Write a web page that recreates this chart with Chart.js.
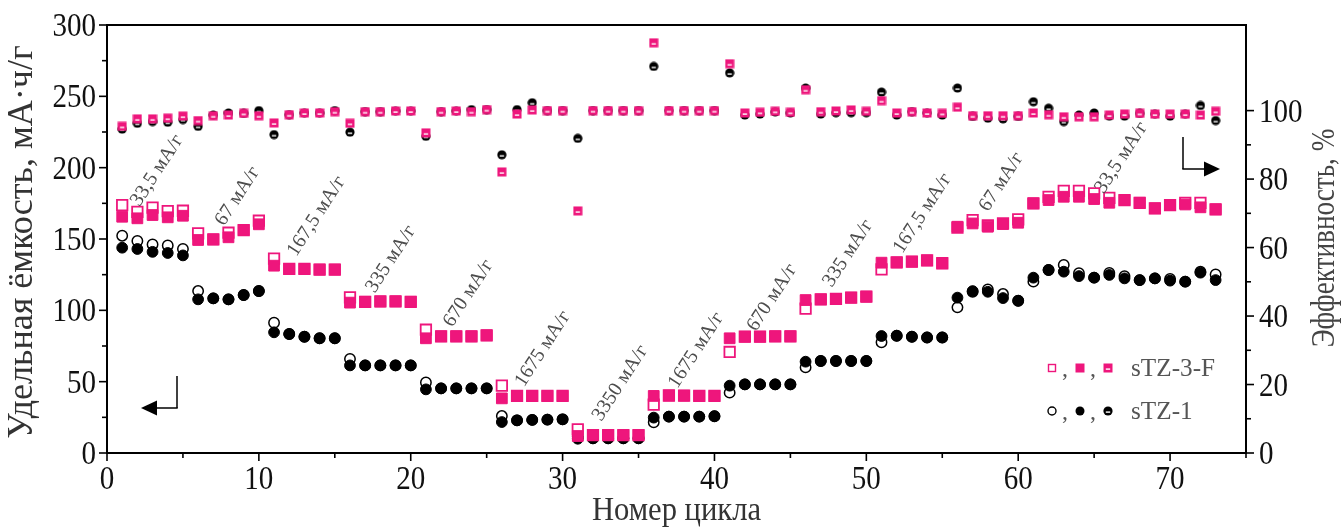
<!DOCTYPE html>
<html>
<head>
<meta charset="utf-8">
<script src="https://cdn.jsdelivr.net/npm/chart.js@4.4.1/dist/chart.umd.min.js"></script>
<style>
  html, body { margin: 0; padding: 0; background: #fff; }
  #wrap { width: 1341px; height: 527px; }
</style>
</head>
<body>
<div id="wrap"><canvas id="myChart" width="1341" height="527"></canvas></div>
<script>
// номера циклов
var cycles = [1,2,3,4,5,6,7,8,9,10,11,12,13,14,15,16,17,18,19,20,21,22,23,24,25,
	26,27,28,29,30,31,32,33,34,35,36,37,38,39,40,41,42,43,44,45,46,47,48,49,50,
	51,52,53,54,55,56,57,58,59,60,61,62,63,64,65,66,67,68,69,70,71,72,73];

// sTZ-3-F, мА·ч/г
var chargeTZ3F = [173.8,169.0,172.0,169.6,169.8, 154.0,149.7,154.4,156.3,162.8,
	136.2,129.0,129.0,128.6,128.6, 109.1,106.0,106.2,106.3,106.0,
	86.4,81.8,81.8,81.8,82.5, 47.2,40.0,40.0,40.0,40.0,
	16.6,12.6,12.6,12.6,12.6, 33.9,40.3,40.2,40.0,40.0,
	70.8,81.5,81.5,81.8,81.8, 101.2,107.7,108.0,108.9,109.6,
	128.7,133.6,134.1,135.0,133.0, 158.0,163.3,159.5,161.0,163.8,
	175.0,179.5,183.8,183.8,182.0,178.9,177.3,175.4,171.5,173.8,175.4,175.4,170.8];
var dischargeTZ3F = [165.6,164.5,166.8,165.2,166.3, 149.3,149.7,151.2,156.3,160.3,
	131.3,129.0,129.0,128.6,128.6, 105.4,106.0,106.2,106.3,106.0,
	80.4,81.8,81.8,81.8,82.5, 38.3,40.0,40.0,40.0,40.0,
	11.9,12.6,12.6,12.6,12.6, 40.0,40.3,40.2,40.0,40.0,
	80.4,81.5,81.5,81.8,81.8, 107.2,107.7,108.0,108.9,109.6,
	133.4,133.6,134.1,135.0,133.0, 158.6,160.9,158.6,160.5,161.4,
	175.0,177.3,179.6,179.6,178.0,175.4,177.3,175.4,171.5,173.8,174.2,172.2,170.8];
var effTZ3F = [95.4,97.6,97.6,97.8,98.4, 97.1,98.5,98.7,99.2,98.5,
	96.4,98.8,99.3,99.3,99.7, 96.3,99.7,99.7,99.9,99.9,
	93.5,99.7,99.9,99.7,100.3, 82.1,99.0,100.2,100.0,100.0,
	70.7,100.0,100.0,100.0,100.0, 119.8,100.0,100.0,100.0,100.0,
	113.7,99.3,99.5,99.8,99.5, 106.1,99.7,99.9,100.2,99.8,
	102.9,99.3,99.7,99.3,99.2, 101.0,98.5,98.5,98.5,98.5,
	99.3,98.8,98.2,98.2,98.2,98.7,99.0,99.2,99.0,99.0,99.0,98.7,99.8];

// sTZ-1, мА·ч/г
var chargeTZ1 = [152.3,148.6,146.2,145.5,143.0, 113.5,108.4,107.7,110.7,113.5,
	91.3,83.4,81.5,80.4,80.4, 65.9,61.4,61.4,61.4,61.4,
	49.5,45.3,45.3,45.3,45.3, 25.9,22.9,23.2,23.4,23.6,
	11.5,10.3,10.3,10.3,10.3, 21.5,25.5,25.5,25.5,25.8,
	42.3,48.1,48.1,48.1,48.1, 60.0,64.5,64.5,64.5,64.5,
	77.6,82.2,81.5,81.0,81.0, 102.1,113.0,114.7,111.4,106.7,
	120.1,128.3,131.8,126.0,122.9,126.2,124.0,121.2,122.4,122.0,120.1,127.0,125.2];
var dischargeTZ1 = [143.9,143.0,141.0,140.2,138.5, 107.7,108.4,107.7,110.7,113.5,
	84.6,83.4,81.5,80.4,80.4, 61.4,61.4,61.4,61.4,61.4,
	44.6,45.3,45.3,45.3,45.3, 21.7,22.9,23.2,23.4,23.6,
	10.0,10.3,10.3,10.3,10.3, 24.8,25.5,25.5,25.5,25.8,
	47.2,48.1,48.1,48.1,48.1, 64.0,64.5,64.5,64.5,64.5,
	82.0,82.2,81.5,81.0,81.0, 108.9,113.5,113.0,108.6,106.7,
	122.9,128.3,127.1,124.0,122.9,124.8,122.4,121.2,122.4,120.8,120.1,126.4,121.2];
var effTZ1 = [94.6,96.3,96.8,96.6,97.4, 95.4,98.7,99.3,99.2,100.0,
	93.0,98.8,99.3,99.3,100.0, 93.7,99.7,99.7,99.9,99.9,
	92.5,99.7,99.9,100.3,100.3, 87.1,100.3,102.3,100.0,100.0,
	91.9,100.0,100.0,100.0,100.0, 112.9,100.0,100.0,100.0,100.0,
	111.0,98.7,99.0,99.6,99.3, 106.6,99.0,99.4,99.4,99.4,
	105.4,98.7,99.7,99.3,98.7, 106.6,98.3,97.8,97.6,98.3,
	102.6,100.7,96.8,98.7,99.3,98.4,98.4,99.2,99.0,98.4,99.0,101.5,97.1];

// подписи осей
var xTickLabels = [0, 10, 20, 30, 40, 50, 60, 70];
var yTickLabels = [0, 50, 100, 150, 200, 250, 300];
var y1TickLabels = [0, 20, 40, 60, 80, 100];

// плотности тока по ступеням
var rateLabels = ['33,5 мА/г', '67 мА/г', '167,5 мА/г', '335 мА/г', '670 мА/г', '1675 мА/г', '3350 мА/г',
	'1675 мА/г', '670 мА/г', '335 мА/г', '167,5 мА/г', '67 мА/г', '33,5 мА/г'];
// где стоят эти подписи (цикл, мА·ч/г)
var rateLabelPos = [[3.3, 198], [8.6, 180], [13.8, 166], [18.7, 136], [23.8, 112], [28.7, 73], [33.8, 49],
	[38.8, 72], [43.8, 109], [48.8, 140], [53.7, 168], [58.9, 190], [66.8, 207]];

var PINK = '#ee167c';
var SERIF = '"Liberation Serif", "Times New Roman", serif';

function pts(ys){
	return cycles.map(function(c, i){ return {x: c, y: ys[i]}; });
}

// маркер КПД: квадрат/круг с белой чертой
function effMarker(round, color){
	var c = document.createElement('canvas');
	c.width = 10; c.height = 10;
	var g = c.getContext('2d');
	g.fillStyle = color;
	if (round) {
		g.beginPath(); g.arc(5, 5, 4.6, 0, Math.PI * 2); g.fill();
	} else {
		g.fillRect(0.5, 0.5, 9, 9);
	}
	g.fillStyle = '#fff';
	g.fillRect(2.8, 5.4, 4.4, 1.4);
	return c;
}

function drawText(ctx, s, x, y, o){
	ctx.save();
	ctx.translate(x, y);
	if (o.rot) ctx.rotate(o.rot);
	ctx.scale(o.sx || 1, 1);
	ctx.font = o.size + 'px ' + SERIF;
	ctx.fillStyle = o.color || '#000';
	ctx.textAlign = o.align || 'center';
	ctx.textBaseline = o.base || 'alphabetic';
	ctx.fillText(s, 0, 0);
	ctx.restore();
}

function seg(ctx, x1, y1, x2, y2){
	ctx.beginPath(); ctx.moveTo(x1, y1); ctx.lineTo(x2, y2); ctx.stroke();
}

function arrowHead(ctx, tipX, y, dir){
	ctx.beginPath();
	ctx.moveTo(tipX, y);
	ctx.lineTo(tipX - dir * 16, y - 7.5);
	ctx.lineTo(tipX - dir * 16, y + 7.5);
	ctx.closePath();
	ctx.fill();
}

var decor = {
	id: 'decor',
	afterDraw: function(chart){
		var ctx = chart.ctx, a = chart.chartArea;
		var sx = chart.scales.x, sy = chart.scales.y, sy1 = chart.scales.y1;
		ctx.save();
		ctx.strokeStyle = '#000';
		ctx.fillStyle = '#000';

		// верхняя рамка
		ctx.lineWidth = 2;
		seg(ctx, a.left - 1, a.top, a.right + 1, a.top);

		// засечки
		ctx.lineWidth = 1.6;
		sx.ticks.forEach(function(t){
			var p = sx.getPixelForValue(t.value);
			seg(ctx, p, a.bottom, p, a.bottom + (t.value % 10 === 0 ? 8 : 5));
		});
		sy.ticks.forEach(function(t){
			var p = sy.getPixelForValue(t.value);
			seg(ctx, a.left, p, a.left - (t.value % 50 === 0 ? 8 : 5), p);
		});
		sy1.ticks.forEach(function(t){
			if (t.value > 100) return;
			var p = sy1.getPixelForValue(t.value);
			seg(ctx, a.right, p, a.right + (t.value % 20 === 0 ? 8 : 5), p);
		});

		// подписи делений
		xTickLabels.forEach(function(v){
			drawText(ctx, String(v), sx.getPixelForValue(v), a.bottom + 36, {size: 33, sx: 0.88, color: '#111'});
		});
		yTickLabels.forEach(function(v){
			drawText(ctx, String(v), a.left - 11, sy.getPixelForValue(v) + 11, {size: 33, sx: 0.88, color: '#111', align: 'right'});
		});
		y1TickLabels.forEach(function(v){
			drawText(ctx, String(v), a.right + 13, sy1.getPixelForValue(v) + 11, {size: 33, sx: 0.88, color: '#111', align: 'left'});
		});

		// названия осей
		drawText(ctx, 'Номер цикла', (a.left + a.right) / 2, 520, {size: 34, sx: 0.9, color: '#333'});
		drawText(ctx, 'Удельная ёмкость, мА·ч/г', 23, 242, {size: 35, sx: 1.03, color: '#333', rot: -Math.PI / 2, base: 'middle'});
		drawText(ctx, 'Эффективность, %', 1325, 238, {size: 34, sx: 0.8, color: '#444', rot: -Math.PI / 2, base: 'middle'});

		// плотности тока
		rateLabels.forEach(function(s, i){
			var p = rateLabelPos[i];
			drawText(ctx, s, sx.getPixelForValue(p[0]), sy.getPixelForValue(p[1]),
				{size: 20, color: '#4d4d4d', rot: -57 * Math.PI / 180, base: 'middle'});
		});

		// стрелки к осям
		ctx.lineWidth = 1.5;
		seg(ctx, 177, 376, 177, 408);
		seg(ctx, 177.7, 408, 156, 408);
		arrowHead(ctx, 141, 408, -1);
		seg(ctx, 1183, 137, 1183, 169);
		seg(ctx, 1182.3, 169, 1205, 169);
		arrowHead(ctx, 1220, 169, 1);

		// легенда
		var rows = [
			{y: 368, label: 'sTZ-3-F', round: false, color: PINK},
			{y: 411, label: 'sTZ-1', round: true, color: '#000'}
		];
		rows.forEach(function(r){
			ctx.lineWidth = 1.4;
			ctx.strokeStyle = r.color;
			ctx.fillStyle = r.color;
			if (r.round) {
				ctx.beginPath(); ctx.arc(1052, r.y, 4, 0, Math.PI * 2); ctx.stroke();
				ctx.beginPath(); ctx.arc(1080, r.y, 4.5, 0, Math.PI * 2); ctx.fill();
			} else {
				ctx.strokeRect(1048.5, r.y - 3.5, 7, 7);
				ctx.fillRect(1075.5, r.y - 4.5, 9, 9);
			}
			ctx.drawImage(effMarker(r.round, r.color), 1103, r.y - 5, 10, 10);
			drawText(ctx, ',', 1065, r.y + 8, {size: 24, color: '#555'});
			drawText(ctx, ',', 1093, r.y + 8, {size: 24, color: '#555'});
			drawText(ctx, r.label, 1131, r.y + 8, {size: 26, sx: 0.97, color: '#555', align: 'left'});
		});
		ctx.restore();
	}
};

var ctx = document.getElementById('myChart').getContext('2d');
var myChart = new Chart(ctx, {
	type: 'scatter',
	data: {
		datasets: [{
			label: 'sTZ-3-F разряд',
			data: pts(dischargeTZ3F),
			yAxisID: 'y',
			pointStyle: 'rect',
			pointRadius: 7.6,
			backgroundColor: PINK,
			borderColor: PINK,
			borderWidth: 1
		}, {
			label: 'sTZ-3-F заряд',
			data: pts(chargeTZ3F),
			yAxisID: 'y',
			pointStyle: 'rect',
			pointRadius: 7.4,
			backgroundColor: '#fff',
			borderColor: PINK,
			borderWidth: 1.8
		}, {
			label: 'sTZ-3-F КПД',
			data: pts(effTZ3F),
			yAxisID: 'y1',
			pointStyle: effMarker(false, PINK),
			pointRadius: 5
		}, {
			label: 'sTZ-1 разряд',
			data: pts(dischargeTZ1),
			yAxisID: 'y',
			pointStyle: 'circle',
			pointRadius: 5.4,
			backgroundColor: '#000',
			borderColor: '#000',
			borderWidth: 1
		}, {
			label: 'sTZ-1 заряд',
			data: pts(chargeTZ1),
			yAxisID: 'y',
			pointStyle: 'circle',
			pointRadius: 5.2,
			backgroundColor: '#fff',
			borderColor: '#000',
			borderWidth: 1.5
		}, {
			label: 'sTZ-1 КПД',
			data: pts(effTZ1),
			yAxisID: 'y1',
			pointStyle: effMarker(true, '#000'),
			pointRadius: 5
		}]
	},
	options: {
		responsive: false,
		animation: false,
		devicePixelRatio: 1,
		layout: {padding: {top: 25, left: 0, right: 0, bottom: 0}, autoPadding: false},
		plugins: {legend: {display: false}, tooltip: {enabled: false}},
		scales: {
			x: {
				type: 'linear', position: 'bottom', min: 0, max: 75,
				ticks: {stepSize: 5, display: false},
				grid: {display: false, drawTicks: false},
				border: {display: true, color: '#000', width: 2},
				afterFit: function(s){ s.height = 74; }
			},
			y: {
				type: 'linear', position: 'left', min: 0, max: 300,
				ticks: {stepSize: 25, display: false},
				grid: {display: false, drawTicks: false},
				border: {display: true, color: '#000', width: 2},
				afterFit: function(s){ s.width = 107; }
			},
			y1: {
				type: 'linear', position: 'right', min: 0, max: 125,
				ticks: {stepSize: 10, display: false},
				grid: {display: false, drawTicks: false},
				border: {display: true, color: '#000', width: 2},
				afterFit: function(s){ s.width = 95; }
			}
		}
	},
	plugins: [decor]
});
</script>
</body>
</html>
